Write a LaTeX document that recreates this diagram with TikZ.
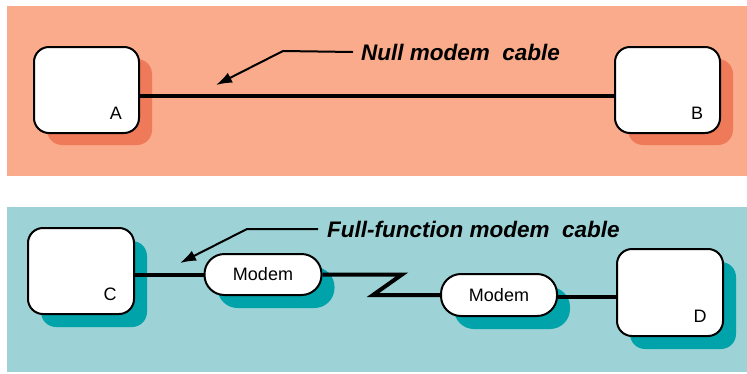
\documentclass[tikz,border=0pt]{standalone}
\usepackage{fontspec}
\setmainfont{Liberation Sans}
\usetikzlibrary{arrows.meta,shadows,calc}
\definecolor{topbg}{HTML}{F9AB8B}
\definecolor{topsh}{HTML}{EF7A5A}
\definecolor{botbg}{HTML}{9DD3D6}
\definecolor{botsh}{HTML}{00A3AA}
\tikzset{
  host/.style={draw=black, line width=2pt, fill=white, rounded corners=15pt,
    minimum width=105pt, minimum height=86pt, inner sep=0pt},
  modembox/.style={draw=black, line width=2pt, fill=white, rounded corners=20pt,
    minimum width=117pt, minimum height=41pt, inner sep=0pt,
    font=\fontsize{18}{21}\selectfont},
  tsh/.style={drop shadow={shadow xshift=13pt, shadow yshift=-12pt, fill=topsh, opacity=1}},
  bsh/.style={drop shadow={shadow xshift=13pt, shadow yshift=-13pt, fill=botsh, opacity=1}},
  letter/.style={font=\fontsize{18}{21}\selectfont, inner sep=0pt},
  title/.style={font=\fontsize{22.5}{26}\selectfont\bfseries\itshape, inner sep=0pt, anchor=west},
  cable/.style={line width=4pt},
  pointer/.style={line width=2pt, -{Latex[length=16pt,width=11pt]}}
}
\begin{document}
\begin{tikzpicture}[x=1pt,y=-1pt]
\useasboundingbox (0,0) rectangle (747,373);
\fill[topbg] (7,6) rectangle (747,176);
\fill[botbg] (7,207) rectangle (747,372);
% top
\node[host, tsh] (A) at (86.5,90) {};
\node[host, tsh] (B) at (667.5,90) {};
\node[letter] (la) at (116,113) {A};
\node[letter] (lb) at (697,113) {B};
\draw[cable] ([yshift=-6pt]A.east) -- ([yshift=-6pt]B.west);
\node[title] (t1) at (361,52) {Null modem\ \ cable};
\coordinate (tip1) at (216,85);
\draw[pointer] ([xshift=-8pt]t1.west) -- (283,51) -- (tip1);
% bottom
\node[host, bsh, minimum width=106pt] (C) at (81,271) {};
\node[host, bsh, minimum width=106pt, minimum height=87pt] (D) at (670,292.5) {};
\node[letter] (lc) at (110,294) {C};
\node[letter] (ld) at (700,316) {D};
\node[modembox, bsh] (M1) at (263,274.5) {Modem};
\node[modembox, bsh, minimum width=116pt, minimum height=42pt] (M2) at (499,295) {Modem};
\draw[cable] (C.east |- M1.west) -- (M1.west);
\draw[cable, line join=miter] (M1.east) -- (402,274.5) -- (373,295) -- (M2.west);
\draw[cable] ([yshift=-2pt]M2.east) -- ([yshift=-2pt]M2.east -| D.west);
\node[title] (t2) at (327,229) {Full-function modem\ \ cable};
\coordinate (tip2) at (180,263);
\draw[pointer] ([xshift=-9pt]t2.west) -- (247,229) -- (tip2);
\end{tikzpicture}
\end{document}
